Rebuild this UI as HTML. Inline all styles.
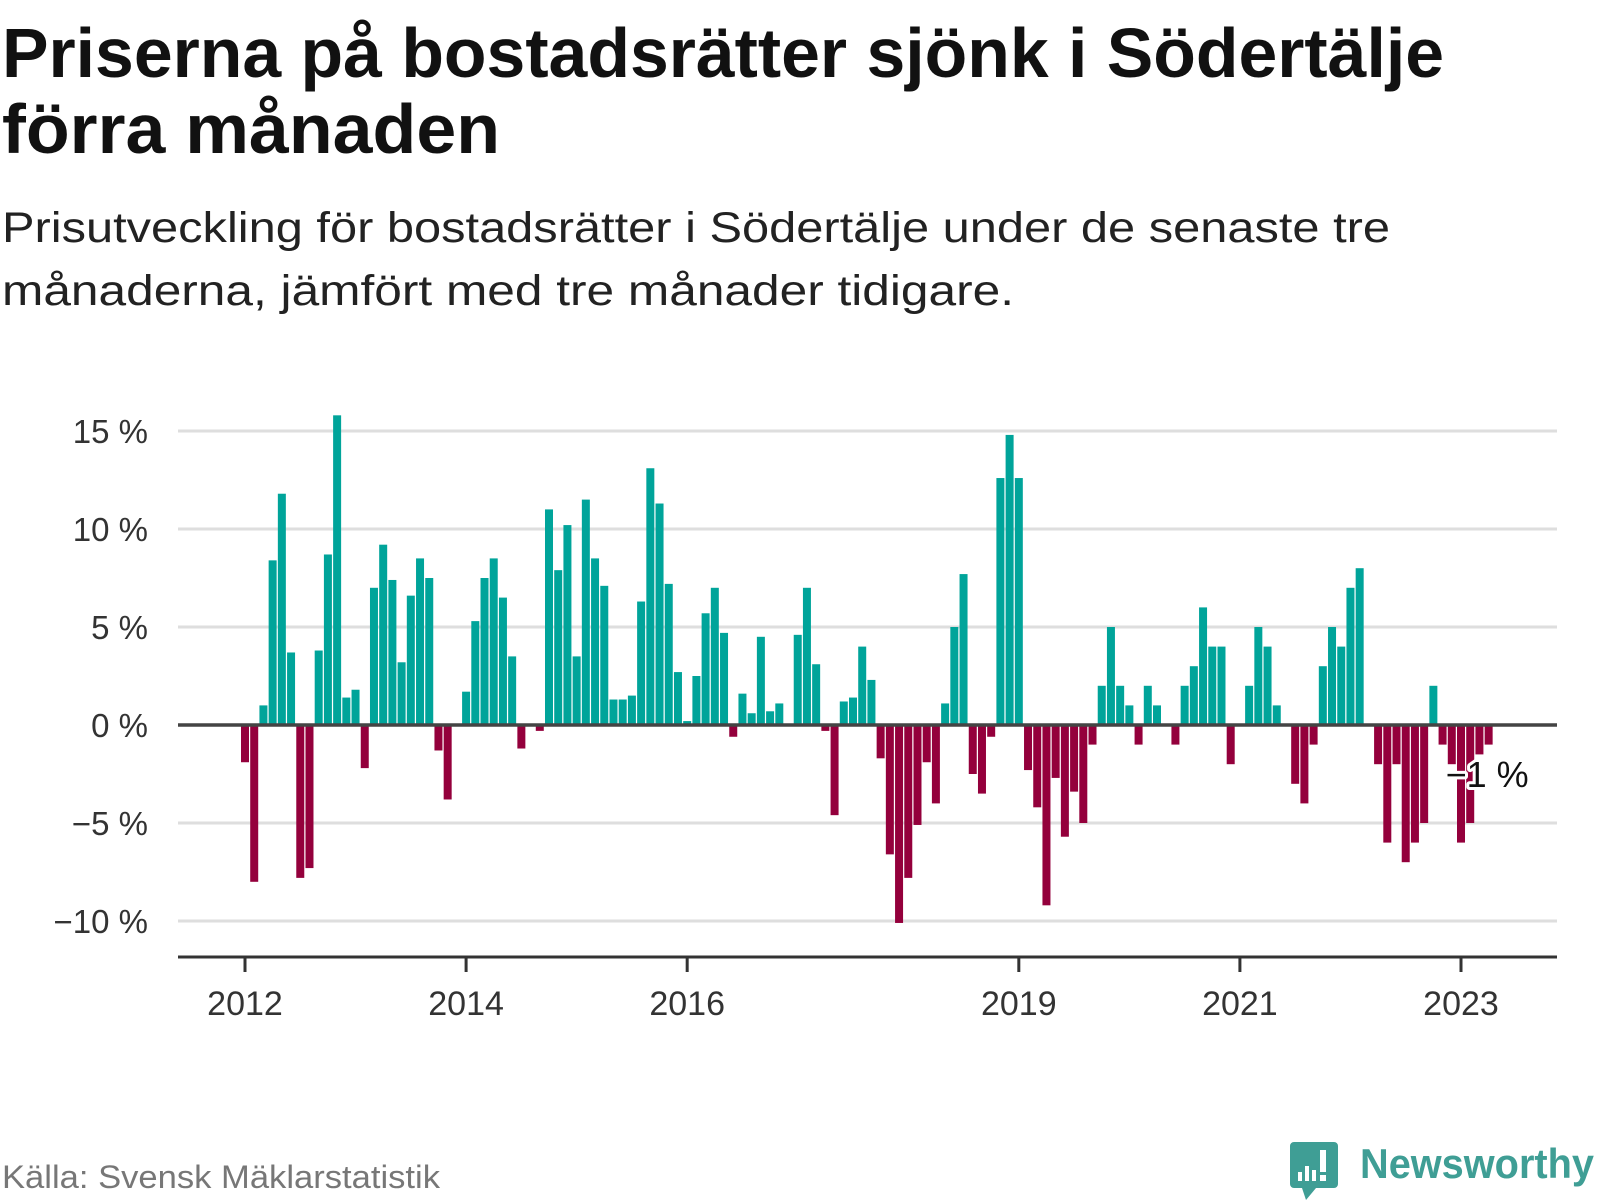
<!DOCTYPE html>
<html><head><meta charset="utf-8"><style>
html,body{margin:0;padding:0;background:#fff;}
svg{display:block;font-family:"Liberation Sans",sans-serif;}
</style></head><body>
<svg id="chart" width="1600" height="1200" viewBox="0 0 1600 1200" xmlns="http://www.w3.org/2000/svg">
  <text x="2" y="77" font-size="70" font-weight="bold" fill="#111" textLength="1442" lengthAdjust="spacingAndGlyphs">Priserna på bostadsrätter sjönk i Södertälje</text>
  <text x="2" y="153" font-size="70" font-weight="bold" fill="#111" textLength="498" lengthAdjust="spacingAndGlyphs">förra månaden</text>
  <text x="2" y="242" font-size="43" fill="#222" textLength="1388" lengthAdjust="spacingAndGlyphs">Prisutveckling för bostadsrätter i Södertälje under de senaste tre</text>
  <text x="2" y="305" font-size="43" fill="#222" textLength="1012" lengthAdjust="spacingAndGlyphs">månaderna, jämfört med tre månader tidigare.</text>
  <g id="grid"></g>
  <g id="ylabels"></g>
  <g id="bars"></g>
  <line x1="178" x2="1557" y1="725" y2="725" stroke="#444" stroke-width="3.5"/>
  <line x1="178" x2="1557" y1="957" y2="957" stroke="#333" stroke-width="3"/>
  <g id="xticks"></g>
  <text id="lastlabel" x="1450" y="787" font-size="36" fill="#111" stroke="#fff" stroke-width="6" paint-order="stroke" stroke-linejoin="round">−1 %</text>
  <text x="2" y="1188" font-size="32" fill="#777" textLength="438" lengthAdjust="spacingAndGlyphs">Källa: Svensk Mäklarstatistik</text>
  <g>
    <path d="M1294 1142 h40 a4 4 0 0 1 4 4 v38 a4 4 0 0 1 -4 4 h-18 l-10 12 l-4 -12 h-8 a4 4 0 0 1 -4 -4 v-38 a4 4 0 0 1 4 -4z" fill="#3f9e95"/>
    <rect x="1298" y="1172" width="4" height="9" fill="#fff"/>
    <rect x="1305" y="1166" width="4" height="15" fill="#fff"/>
    <rect x="1312" y="1170" width="4" height="11" fill="#fff"/>
    <rect x="1320" y="1150" width="6" height="22" fill="#fff"/>
    <rect x="1320" y="1175" width="6" height="6" fill="#fff"/>
    <text x="1360" y="1178" font-size="42" font-weight="bold" fill="#3f9e95" textLength="234" lengthAdjust="spacingAndGlyphs">Newsworthy</text>
  </g>
</svg>
<script>
const startYear = 2012;
const values = [
-1.9,-8.0,1.0,8.4,11.8,3.7,-7.8,-7.3,3.8,8.7,15.8,1.4,
1.8,-2.2,7.0,9.2,7.4,3.2,6.6,8.5,7.5,-1.3,-3.8,0,
1.7,5.3,7.5,8.5,6.5,3.5,-1.2,0,-0.3,11.0,7.9,10.2,
3.5,11.5,8.5,7.1,1.3,1.3,1.5,6.3,13.1,11.3,7.2,2.7,
0.2,2.5,5.7,7.0,4.7,-0.6,1.6,0.6,4.5,0.7,1.1,0,
4.6,7.0,3.1,-0.3,-4.6,1.2,1.4,4.0,2.3,-1.7,-6.6,-10.1,
-7.8,-5.1,-1.9,-4.0,1.1,5.0,7.7,-2.5,-3.5,-0.6,12.6,14.8,
12.6,-2.3,-4.2,-9.2,-2.7,-5.7,-3.4,-5.0,-1.0,2.0,5.0,2.0,
1.0,-1.0,2.0,1.0,0,-1.0,2.0,3.0,6.0,4.0,4.0,-2.0,
0,2.0,5.0,4.0,1.0,0,-3.0,-4.0,-1.0,3.0,5.0,4.0,
7.0,8.0,0,-2.0,-6.0,-2.0,-7.0,-6.0,-5.0,2.0,-1.0,-2.0,
-6.0,-5.0,-1.5,-1.0
];
const yTicks = [-10,-5,0,5,10,15];
const yTickLabels = ["−10 %","−5 %","0 %","5 %","10 %","15 %"];
const xTickYears = [2012,2014,2016,2019,2021,2023];
const xTickLabels = ["2012","2014","2016","2019","2021","2023"];

const NS = "http://www.w3.org/2000/svg";
const x0 = 245, monthW = (1461 - 245) / 132;
function xScale(monthIndex){ return x0 + monthIndex * monthW; }
function yScale(v){ return 725 - v * 19.6; }

const grid = document.getElementById('grid');
const ylab = document.getElementById('ylabels');
yTicks.forEach((t,i)=>{
  if (t !== 0) {
    const l = document.createElementNS(NS,'line');
    
    
    l.setAttribute('x1',178); l.setAttribute('x2',1557);
    l.setAttribute('y1',yScale(t)); l.setAttribute('y2',yScale(t));
    l.setAttribute('stroke','#dedede'); l.setAttribute('stroke-width','3');
    grid.appendChild(l);
  }
  const tx = document.createElementNS(NS,'text');
  
  
  tx.setAttribute('x',148); tx.setAttribute('y',yScale(t)+12);
  tx.setAttribute('text-anchor','end'); tx.setAttribute('font-size','33'); tx.setAttribute('fill','#333');
  tx.textContent = yTickLabels[i];
  ylab.appendChild(tx);
});

const bars = document.getElementById('bars');
const bw = 8;
values.forEach((v,i)=>{
  if (v === 0) return;
  const r = document.createElementNS(NS,'rect');
  
  
  const y1 = yScale(Math.max(v,0)), y2 = yScale(Math.min(v,0));
  r.setAttribute('x', xScale(i) - bw/2);
  r.setAttribute('y', y1);
  r.setAttribute('width', bw);
  r.setAttribute('height', y2 - y1);
  r.setAttribute('fill', v > 0 ? '#00a49a' : '#94003c');
  bars.appendChild(r);
});

const xt = document.getElementById('xticks');
xTickYears.forEach((yr,i)=>{
  const x = xScale((yr - startYear) * 12);
  const l = document.createElementNS(NS,'line');
  
  
  l.setAttribute('x1',x); l.setAttribute('x2',x);
  l.setAttribute('y1',957); l.setAttribute('y2',972);
  l.setAttribute('stroke','#333'); l.setAttribute('stroke-width','3');
  xt.appendChild(l);
  const tx = document.createElementNS(NS,'text');
  
  
  tx.setAttribute('x',x); tx.setAttribute('y',1015);
  tx.setAttribute('text-anchor','middle'); tx.setAttribute('font-size','34'); tx.setAttribute('fill','#333');
  tx.textContent = xTickLabels[i];
  xt.appendChild(tx);
});

const lastIdx = values.length - 1;
document.getElementById('lastlabel').setAttribute('x', xScale(lastIdx) - 43);
</script>
</body></html>
